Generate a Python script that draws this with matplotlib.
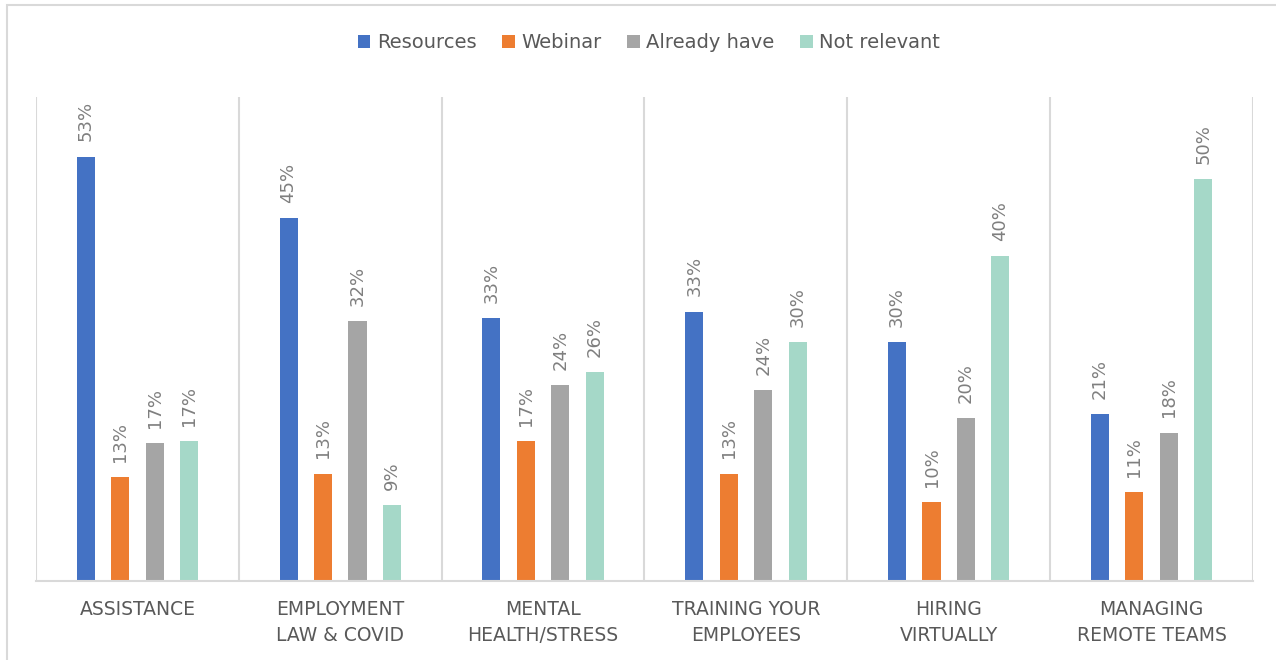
import matplotlib.pyplot as plt
import numpy as np

categories = ["ASSISTANCE", "EMPLOYMENT\nLAW & COVID", "MENTAL\nHEALTH/STRESS",
              "TRAINING YOUR\nEMPLOYEES", "HIRING\nVIRTUALLY", "MANAGING\nREMOTE TEAMS"]
series_names = ["Resources", "Webinar", "Already have", "Not relevant"]
resources = [52.6, 45.0, 32.6, 33.4, 29.6, 20.7]
webinar = [12.9, 13.3, 17.3, 13.3, 9.8, 11.0]
already_have = [17.1, 32.2, 24.3, 23.7, 20.2, 18.4]
not_relevant = [17.3, 9.4, 25.9, 29.6, 40.3, 49.8]
colors = ["#4472C4", "#ED7D31", "#A5A5A5", "#A5D8C8"]

fig = plt.figure(figsize=(12.76, 6.6), dpi=100)

# outer chart border (right and bottom run off the picture)
fig.patches.append(plt.Rectangle((7 / 1276, -0.05), 1.0, 1.05 - 5 / 660, transform=fig.transFigure,
                                 fill=False, edgecolor="#d9d9d9", linewidth=1.5))

ax = fig.add_axes([36 / 1276, 1 - 581 / 660, (1253 - 36) / 1276, (581 - 97) / 660])

x = np.arange(len(categories))
offsets = [-0.255, -0.085, 0.085, 0.255]
width = 0.089
all_series = [resources, webinar, already_have, not_relevant]

for vals, name, col, off in zip(all_series, series_names, colors, offsets):
    bars = ax.bar(x + off, vals, width, color=col, label=name)
    for b, v in zip(bars, vals):
        ax.annotate("{}%".format(int(round(v))),
                    (b.get_x() + b.get_width() / 2, b.get_height()),
                    xytext=(0, 11), textcoords="offset points",
                    rotation=90, ha="center", va="bottom",
                    fontsize=13, color="#7f7f7f")

ax.set_xlim(-0.5, len(categories) - 0.5)
ax.set_ylim(0, 60)
ax.set_yticks([])

# category separators
for b in np.arange(-0.5, len(categories), 1.0):
    ax.axvline(b, color="#d9d9d9", linewidth=1.5, zorder=0)

for s in ["top", "left", "right"]:
    ax.spines[s].set_visible(False)
ax.spines["bottom"].set_color("#d9d9d9")
ax.spines["bottom"].set_linewidth(1.5)

ax.set_xticks(x)
ax.set_xticklabels(categories, fontsize=13.5, color="#595959", linespacing=1.45)
ax.tick_params(axis="x", length=0, pad=14)

fig.legend(loc="center", bbox_to_anchor=(649 / 1276, 1 - 43 / 660), ncol=4, frameon=False,
           fontsize=14, handlelength=0.65, handleheight=0.65, handletextpad=0.35,
           columnspacing=1.3, labelcolor="#595959")

fig.savefig("out.png", dpi=100)
